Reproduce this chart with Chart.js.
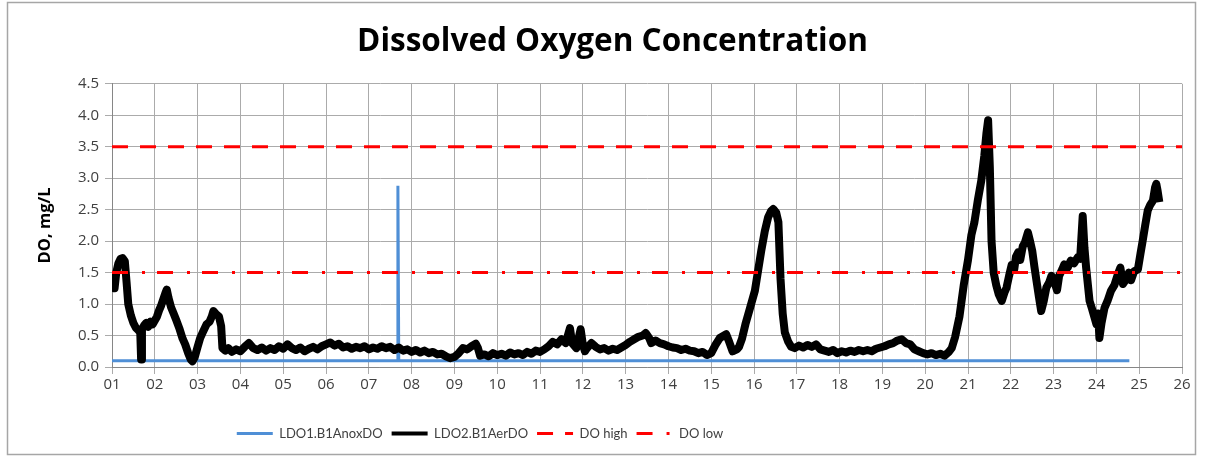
<!DOCTYPE html>
<html>
<head>
<meta charset="utf-8">
<title>Dissolved Oxygen Concentration</title>
<script src="https://cdn.jsdelivr.net/npm/chart.js@4.4.1/dist/chart.umd.min.js"></script>
<style>
  html, body { margin: 0; padding: 0; background: #ffffff; }
  #wrap { position: relative; width: 1207px; height: 458px; }
</style>
</head>
<body>
<div id="wrap"><canvas id="doChart" width="1207" height="458"></canvas></div>
<script>
// ---- Data ----
const dayLabels = ['01','02','03','04','05','06','07','08','09','10','11','12','13',
                   '14','15','16','17','18','19','20','21','22','23','24','25','26'];
const yTicks = [0, 0.5, 1, 1.5, 2, 2.5, 3, 3.5, 4, 4.5];

// LDO1.B1AnoxDO : [day, mg/L]
const anoxDO = [
  [1.00, 0.10], [7.67, 0.10], [7.68, 2.88], [7.70, 0.10], [24.77, 0.10]
];

// LDO2.B1AerDO : [day, mg/L]
const aerDO = [
  [1.00,1.20],[1.03,1.45],[1.06,1.25],[1.10,1.50],[1.15,1.65],[1.20,1.72],[1.25,1.73],[1.30,1.68],
  [1.34,1.35],[1.38,1.00],[1.44,0.82],[1.50,0.70],[1.56,0.62],[1.62,0.58],[1.66,0.55],[1.68,0.12],
  [1.70,0.60],[1.75,0.66],[1.80,0.70],[1.85,0.64],[1.90,0.72],[1.95,0.68],[2.00,0.74],[2.05,0.80],
  [2.10,0.90],[2.15,0.98],[2.20,1.08],[2.25,1.18],[2.28,1.23],[2.32,1.10],[2.38,0.95],[2.44,0.85],
  [2.51,0.73],[2.58,0.60],[2.65,0.45],[2.71,0.36],[2.78,0.22],[2.84,0.12],[2.88,0.09],[2.93,0.15],
  [3.00,0.32],[3.06,0.46],[3.12,0.55],[3.21,0.68],[3.28,0.72],[3.33,0.80],[3.37,0.89],[3.43,0.84],
  [3.50,0.80],[3.55,0.65],[3.58,0.30],[3.65,0.26],[3.72,0.30],[3.80,0.24],[3.90,0.28],[4.00,0.25],
  [4.10,0.32],[4.20,0.38],[4.30,0.30],[4.40,0.27],[4.50,0.31],[4.60,0.26],[4.70,0.30],[4.80,0.27],
  [4.90,0.33],[5.00,0.29],[5.10,0.36],[5.20,0.30],[5.30,0.27],[5.40,0.31],[5.50,0.25],[5.60,0.29],
  [5.70,0.32],[5.80,0.28],[5.90,0.33],[6.00,0.36],[6.10,0.39],[6.20,0.34],[6.30,0.37],[6.40,0.31],
  [6.50,0.33],[6.60,0.29],[6.70,0.32],[6.80,0.30],[6.90,0.33],[7.00,0.28],[7.10,0.31],[7.20,0.29],
  [7.30,0.33],[7.40,0.30],[7.50,0.32],[7.60,0.27],[7.70,0.31],[7.80,0.26],[7.90,0.28],[8.00,0.24],
  [8.10,0.27],[8.20,0.23],[8.30,0.26],[8.40,0.22],[8.50,0.24],[8.60,0.20],[8.70,0.21],[8.80,0.17],
  [8.90,0.14],[9.00,0.16],[9.10,0.22],[9.20,0.30],[9.30,0.28],[9.40,0.33],[9.50,0.37],[9.55,0.30],
  [9.60,0.18],[9.70,0.20],[9.80,0.17],[9.90,0.22],[10.00,0.19],[10.10,0.21],[10.20,0.18],[10.30,0.23],
  [10.40,0.20],[10.50,0.22],[10.60,0.19],[10.70,0.24],[10.80,0.21],[10.90,0.26],[11.00,0.24],[11.10,0.28],
  [11.20,0.33],[11.30,0.40],[11.40,0.36],[11.50,0.44],[11.60,0.38],[11.70,0.62],[11.75,0.38],[11.85,0.30],
  [11.95,0.60],[12.00,0.36],[12.05,0.25],[12.10,0.30],[12.20,0.38],[12.30,0.32],[12.40,0.28],[12.50,0.30],
  [12.60,0.26],[12.70,0.29],[12.80,0.27],[12.90,0.31],[13.00,0.35],[13.10,0.40],[13.20,0.44],[13.30,0.48],
  [13.40,0.50],[13.47,0.54],[13.55,0.46],[13.60,0.38],[13.70,0.42],[13.80,0.38],[13.90,0.36],[14.00,0.33],
  [14.10,0.31],[14.20,0.30],[14.30,0.27],[14.40,0.29],[14.50,0.26],[14.60,0.25],[14.70,0.22],[14.80,0.24],
  [14.90,0.19],[15.00,0.22],[15.10,0.35],[15.20,0.46],[15.30,0.50],[15.35,0.52],[15.42,0.40],[15.50,0.25],
  [15.60,0.28],[15.65,0.32],[15.72,0.45],[15.80,0.68],[15.90,0.92],[16.02,1.21],[16.10,1.55],[16.17,1.85],
  [16.25,2.15],[16.33,2.38],[16.40,2.48],[16.45,2.51],[16.52,2.45],[16.57,2.30],[16.62,1.40],[16.67,0.85],
  [16.72,0.55],[16.80,0.40],[16.87,0.32],[16.95,0.30],[17.05,0.34],[17.15,0.31],[17.25,0.35],[17.35,0.32],
  [17.45,0.36],[17.55,0.28],[17.65,0.26],[17.75,0.24],[17.85,0.27],[17.95,0.22],[18.05,0.25],[18.15,0.23],
  [18.25,0.26],[18.35,0.24],[18.45,0.27],[18.55,0.25],[18.65,0.27],[18.75,0.25],[18.85,0.29],[18.95,0.31],
  [19.05,0.33],[19.15,0.36],[19.25,0.38],[19.35,0.42],[19.45,0.44],[19.55,0.38],[19.65,0.36],[19.75,0.28],
  [19.85,0.25],[19.95,0.22],[20.05,0.20],[20.15,0.22],[20.25,0.19],[20.35,0.21],[20.45,0.18],[20.55,0.24],
  [20.62,0.30],[20.70,0.48],[20.80,0.80],[20.90,1.30],[21.00,1.70],[21.08,2.10],[21.15,2.30],[21.23,2.65],
  [21.31,2.96],[21.38,3.35],[21.43,3.71],[21.47,3.92],[21.51,3.18],[21.55,2.00],[21.60,1.50],[21.66,1.30],
  [21.72,1.15],[21.79,1.05],[21.85,1.18],[21.90,1.26],[21.96,1.45],[22.02,1.62],[22.08,1.55],[22.12,1.75],
  [22.17,1.82],[22.22,1.70],[22.28,1.92],[22.33,1.98],[22.40,2.14],[22.45,2.00],[22.50,1.85],[22.55,1.60],
  [22.60,1.37],[22.66,1.10],[22.71,0.89],[22.77,1.05],[22.83,1.26],[22.90,1.35],[22.95,1.45],[23.02,1.35],
  [23.08,1.22],[23.13,1.45],[23.20,1.55],[23.25,1.63],[23.33,1.58],[23.40,1.69],[23.48,1.65],[23.56,1.74],
  [23.62,1.72],[23.68,2.40],[23.72,1.90],[23.76,1.58],[23.84,1.05],[23.90,0.92],[23.95,0.80],[24.00,0.68],
  [24.04,0.85],[24.07,0.46],[24.12,0.70],[24.19,0.94],[24.26,1.05],[24.34,1.21],[24.42,1.30],[24.50,1.47],
  [24.56,1.58],[24.62,1.32],[24.70,1.40],[24.76,1.50],[24.81,1.38],[24.88,1.52],[24.97,1.55],[25.03,1.80],
  [25.08,2.00],[25.14,2.25],[25.20,2.49],[25.26,2.58],[25.32,2.64],[25.37,2.85],[25.40,2.91],[25.43,2.80],
  [25.47,2.62]
];

// Limits (constant lines across the whole period)
const doHigh = 3.5;
const doLow  = 1.5;
const firstDay = 1, lastDay = 26;

const toXY = arr => arr.map(p => ({ x: p[0], y: p[1] }));

const FONT   = '"Open Sans", Lato, sans-serif';
const LEGEND = 'Lato, "Open Sans", sans-serif';
const TEXT   = '#404040';
const GRID   = '#ababab';

// Outer chart frame + legend placed left of centre, as in the spreadsheet chart
const framePlugin = {
  id: 'frame',
  afterLayout(chart) {
    const lg = chart.legend;
    const shift = 480 - (lg.left + lg.right) / 2;
    lg.left += shift;
    lg.right += shift;
  },
  beforeDraw(chart) {
    const c = chart.ctx;
    c.save();
    c.fillStyle = '#ffffff';
    c.fillRect(0, 0, chart.width, chart.height);
    c.strokeStyle = '#a6a6a6';
    c.lineWidth = 1.5;
    c.strokeRect(7.5, 2.5, 1188, 452);
    c.restore();
  }
};

const ctx = document.getElementById('doChart').getContext('2d');
const chart = new Chart(ctx, {
  type: 'line',
  data: {
    datasets: [
      {
        label: 'LDO1.B1AnoxDO',
        data: toXY(anoxDO),
        borderColor: '#4f8fd6',
        backgroundColor: '#4f8fd6',
        borderWidth: 3,
        pointRadius: 0,
        pointStyle: 'line',
        tension: 0,
        order: 3
      },
      {
        label: 'LDO2.B1AerDO',
        data: toXY(aerDO),
        borderColor: '#000000',
        backgroundColor: '#000000',
        borderWidth: 8,
        borderJoinStyle: 'round',
        pointRadius: 0,
        pointStyle: 'line',
        tension: 0,
        order: 2
      },
      {
        label: 'DO high',
        data: [{ x: firstDay, y: doHigh }, { x: lastDay, y: doHigh }],
        borderColor: '#ff0000',
        backgroundColor: '#ff0000',
        borderWidth: 3,
        borderDash: [16, 12],
        pointRadius: 0,
        pointStyle: 'line',
        order: 1
      },
      {
        label: 'DO low',
        data: [{ x: firstDay, y: doLow }, { x: lastDay, y: doLow }],
        borderColor: '#ff0000',
        backgroundColor: '#ff0000',
        borderWidth: 3,
        borderDash: [16, 14, 3, 12],
        pointRadius: 0,
        pointStyle: 'line',
        order: 0
      }
    ]
  },
  options: {
    responsive: false,
    animation: false,
    layout: { padding: { left: 43, right: 25, top: 0, bottom: 8 } },
    plugins: {
      tooltip: { enabled: false },
      title: {
        display: true,
        text: 'Dissolved Oxygen Concentration',
        color: '#000000',
        font: { family: FONT, size: 31.5, weight: 'bold' },
        padding: { top: 23, bottom: 23 }
      },
      legend: {
        position: 'bottom',
        labels: {
          color: TEXT,
          font: { family: LEGEND, size: 13 },
          usePointStyle: true,
          pointStyleWidth: 36,
          boxHeight: 3,
          padding: 9,
          sort: (a, b) => a.datasetIndex - b.datasetIndex,
          generateLabels: ch => Chart.defaults.plugins.legend.labels.generateLabels(ch).map(item => {
            const ds = ch.data.datasets[item.datasetIndex];
            item.lineDash = ds.borderDash || [];
            item.lineWidth = Math.min(ds.borderWidth, 4);
            item.strokeStyle = ds.borderColor;
            return item;
          })
        }
      }
    },
    scales: {
      x: {
        type: 'linear',
        min: firstDay,
        max: lastDay,
        afterFit: s => { s.height = 51; },
        afterBuildTicks: s => {
          s.ticks = dayLabels.map((_, i) => ({ value: firstDay + i }));
        },
        ticks: {
          autoSkip: false,
          maxRotation: 0,
          padding: 2,
          color: TEXT,
          font: { family: FONT, size: 15 },
          callback: v => dayLabels[v - firstDay]
        },
        grid: { color: GRID, lineWidth: 1, tickLength: 7 },
        border: { color: '#868686', width: 1 }
      },
      y: {
        min: 0,
        max: 4.5,
        afterFit: s => { s.width = 69; },
        afterBuildTicks: s => {
          s.ticks = yTicks.map(v => ({ value: v }));
        },
        ticks: {
          padding: 6,
          color: TEXT,
          font: { family: FONT, size: 15 },
          callback: v => v.toFixed(1)
        },
        title: {
          display: true,
          text: 'DO, mg/L',
          color: '#000000',
          font: { family: FONT, size: 16.5, weight: 'bold' },
          padding: { top: -8, bottom: 0 }
        },
        grid: { color: GRID, lineWidth: 1, tickLength: 7 },
        border: { color: '#868686', width: 1 }
      }
    }
  },
  plugins: [framePlugin]
});
</script>
</body>
</html>
